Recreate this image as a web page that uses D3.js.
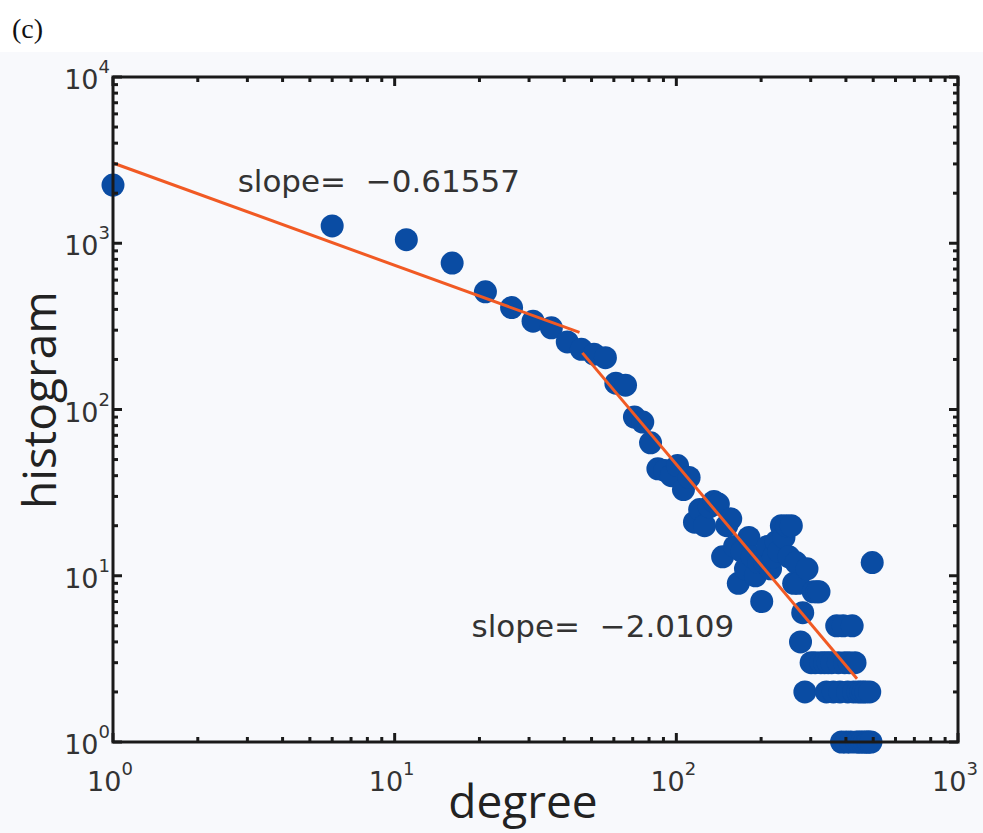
<!DOCTYPE html>
<html>
<head>
<meta charset="utf-8">
<script src="https://cdn.jsdelivr.net/npm/d3@7"></script>
<style>
  html, body { margin: 0; padding: 0; background: #ffffff; }
  svg { display: block; }
</style>
</head>
<body>
<svg id="chart" width="983" height="833"></svg>
<script>
// ---- data ----
const degrees = [1,6,11,16,21,26,31,36,41,46,51,56,61,66,71,76,81,86,91,96,101,106,111,116,121,126,131,136,141,146,151,156,161,166,171,176,181,186,191,196,201,206,211,216,221,226,231,236,241,246,251,256,261,266,271,276,281,286,291,301,306,311,316,321,326,336,341,346,356,361,371,376,381,386,391,396,401,406,411,416,421,426,431,436,441,446,451,456,461,466,471,476,481,486,491,496];
const counts  = [2240,1270,1050,760,510,410,340,310,255,230,215,205,144,140,90,84,63,44,43,40,46,33,39,21,25,20,26,28,27,13,20,22,15,9,14,11,17,13,10,12,7,12,15,11,13,16,14,20,17,20,13,20,9,12,9,4,6,2,11,3,8,3,8,8,3,3,2,3,3,2,5,3,2,1,5,3,1,2,3,1,5,2,3,1,2,1,2,1,2,1,2,1,1,2,1,12];

const fitSlopes = [-0.61557, -2.0109];
const fitIntercepts = [3040, 492000];
const fitRanges = [[1, 45.3], [46.4, 438]];
const fitLabels = ["slope=  \u22120.61557", "slope=  \u22122.0109"];
const labelPos = [[2.77, 2033], [18.75, 4.28]];   // data coords of label start

const xDomain = [1, 1000];
const yDomain = [1, 10000];
const xTickExps = [0, 1, 2, 3];
const yTickExps = [0, 1, 2, 3, 4];
const xTitle = "degree";
const yTitle = "histogram";
const panelTag = "(c)";

// ---- drawing ----
const svg = d3.select("#chart");
const W = 983, H = 833;
const L = 113, R = 958, T = 77, B = 742;

svg.append("rect").attr("x", 0).attr("y", 52).attr("width", W).attr("height", H - 52).attr("fill", "#f8f9fc");

const x = d3.scaleLog().domain(xDomain).range([L, R]);
const y = d3.scaleLog().domain(yDomain).range([B, T]);

// points
const pts = degrees.map((d, i) => ({ d, c: counts[i] }));
svg.append("g").selectAll("circle").data(pts).join("circle")
  .attr("cx", p => x(p.d)).attr("cy", p => y(p.c)).attr("r", 11.5)
  .attr("fill", "#0a4ca3");

// fit lines
const line = d3.line().x(p => x(p[0])).y(p => y(p[1]));
fitSlopes.forEach((s, i) => {
  const [a, b] = fitRanges[i];
  const C = fitIntercepts[i];
  svg.append("path")
    .attr("d", line([[a, C * Math.pow(a, s)], [b, C * Math.pow(b, s)]]))
    .attr("stroke", "#f15a24").attr("stroke-width", 3).attr("fill", "none");
});

// labels
fitLabels.forEach((t, i) => {
  svg.append("text").attr("x", x(labelPos[i][0])).attr("y", y(labelPos[i][1]))
    .attr("font-family", "DejaVu Sans, sans-serif").attr("font-size", 31)
    .attr("fill", "#333").attr("xml:space", "preserve").style("white-space", "pre").text(t);
});

// axes box with inside ticks
const axisColor = "#1a1a1a";
const gAx = svg.append("g");
gAx.append("rect").attr("x", L).attr("y", T).attr("width", R - L).attr("height", B - T)
  .attr("fill", "none").attr("stroke", axisColor).attr("stroke-width", 3);

function minorTicks(dom) {
  const out = [];
  for (let e = Math.log10(dom[0]); e < Math.log10(dom[1]); e++)
    for (let m = 2; m <= 9; m++) out.push(m * Math.pow(10, e));
  return out;
}
const xMaj = xTickExps.map(e => Math.pow(10, e));
const yMaj = yTickExps.map(e => Math.pow(10, e));
const xMin = minorTicks(xDomain), yMin = minorTicks(yDomain);

function tick(x1, y1, x2, y2, w) {
  gAx.append("line").attr("x1", x1).attr("y1", y1).attr("x2", x2).attr("y2", y2)
    .attr("stroke", axisColor).attr("stroke-width", w);
}
xMaj.forEach(v => { tick(x(v), B, x(v), B - 9, 3); tick(x(v), T, x(v), T + 9, 3); });
xMin.forEach(v => { tick(x(v), B, x(v), B - 5, 3); tick(x(v), T, x(v), T + 5, 3); });
yMaj.forEach(v => { tick(L, y(v), L + 9, y(v), 3); tick(R, y(v), R - 9, y(v), 3); });
yMin.forEach(v => { tick(L, y(v), L + 5, y(v), 3); tick(R, y(v), R - 5, y(v), 3); });

// tick labels
const tickFont = "DejaVu Sans, sans-serif";
xTickExps.forEach(e => {
  const t = svg.append("text").attr("x", x(Math.pow(10, e)) - 3).attr("y", 791)
    .attr("text-anchor", "middle").attr("font-family", tickFont).attr("font-size", 27).attr("fill", "#333");
  t.append("tspan").text("10");
  t.append("tspan").attr("font-size", 18).attr("dy", -16).text(e);
});
yTickExps.forEach(e => {
  const t = svg.append("text").attr("x", 110).attr("y", y(Math.pow(10, e)) + 12)
    .attr("text-anchor", "end").attr("font-family", tickFont).attr("font-size", 27).attr("fill", "#333");
  t.append("tspan").text("10");
  t.append("tspan").attr("font-size", 18).attr("dy", -16).text(e);
});

// axis titles
svg.append("text").attr("x", 523).attr("y", 818).attr("text-anchor", "middle")
  .attr("font-family", "Open Sans, sans-serif").attr("font-size", 46).attr("fill", "#222").text(xTitle);
svg.append("text").attr("transform", `translate(56, 400) rotate(-90)`).attr("text-anchor", "middle")
  .attr("font-family", "Open Sans, sans-serif").attr("font-size", 46).attr("fill", "#222").text(yTitle);

svg.append("text").attr("x", 12).attr("y", 38).attr("font-family", "Liberation Serif, serif")
  .attr("font-size", 28).attr("fill", "#111").text(panelTag);
</script>
</body>
</html>
